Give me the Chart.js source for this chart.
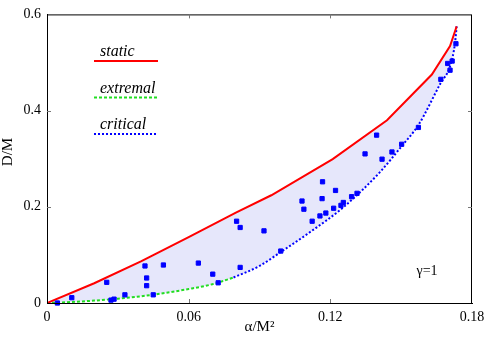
<!DOCTYPE html>
<html>
<head>
<meta charset="utf-8">
<script src="https://cdn.jsdelivr.net/npm/chart.js@4.4.0/dist/chart.umd.min.js"></script>
<style>
body { margin: 0; background: #fff; }
</style>
</head>
<body>
<canvas id="myChart" width="491" height="344"></canvas>
<script>
// static curve (red, solid)
var staticX = [0, 0.02, 0.04, 0.06, 0.08, 0.095, 0.121, 0.144, 0.163, 0.1707, 0.1728, 0.1735];
var staticY = [0, 0.041, 0.087, 0.137, 0.188, 0.224, 0.299, 0.380, 0.475, 0.534, 0.565, 0.575];
// extremal curve (green, dashed)
var extremalX = [0, 0.01, 0.02, 0.03, 0.04, 0.05, 0.06, 0.07, 0.079];
var extremalY = [0, 0.002, 0.005, 0.009, 0.014, 0.021, 0.029, 0.039, 0.053];
// critical curve (blue, dotted)
var criticalX = [0.079, 0.09, 0.099, 0.111, 0.1255, 0.141, 0.1502, 0.1573, 0.1668, 0.1707, 0.1728, 0.1735];
var criticalY = [0.053, 0.077, 0.106, 0.146, 0.199, 0.272, 0.326, 0.370, 0.458, 0.492, 0.540, 0.575];
// scattered samples
var sampleX = [0.0044, 0.0105, 0.0253, 0.0271, 0.0284, 0.033, 0.0415, 0.0422, 0.0422, 0.045,
    0.0493, 0.0641, 0.0702, 0.0725, 0.0803, 0.0818, 0.0818, 0.0919, 0.099, 0.108,
    0.1088, 0.1167, 0.1165, 0.1123, 0.1156, 0.1181, 0.1222, 0.1214, 0.1245, 0.1255,
    0.129, 0.1313, 0.1396, 0.1347, 0.1419, 0.1461, 0.1502, 0.1573, 0.1668, 0.1697,
    0.1707, 0.1716, 0.1732];
var sampleY = [0.0, 0.011, 0.043, 0.006, 0.008, 0.017, 0.077, 0.052, 0.036, 0.017,
    0.079, 0.083, 0.060, 0.042, 0.170, 0.157, 0.074, 0.150, 0.108, 0.212,
    0.195, 0.252, 0.217, 0.170, 0.181, 0.187, 0.234, 0.197, 0.203, 0.209,
    0.221, 0.228, 0.349, 0.310, 0.299, 0.314, 0.330, 0.365, 0.465, 0.498,
    0.484, 0.503, 0.539];
var xTicks = [0, 0.06, 0.12, 0.18];
var xTickLabels = ['0', '0.06', '0.12', '0.18'];
var yTicks = [0, 0.2, 0.4, 0.6];
var yTickLabels = ['0', '0.2', '0.4', '0.6'];
var legendLabels = ['static', 'extremal', 'critical'];
var legendColors = ['#ff0000', '#22dd22', '#0000ff'];

function toPoints(xs, ys) {
    return xs.map(function (x, i) { return { x: x, y: ys[i] }; });
}

var serif = '"Liberation Serif", "DejaVu Serif", serif';

var boxPlugin = {
    id: 'box',
    afterDatasetsDraw: function (chart) {
        var ctx = chart.ctx;
        var a = chart.chartArea;
        var sx = chart.scales.x;
        var sy = chart.scales.y;
        ctx.save();
        ctx.strokeStyle = '#000';
        ctx.lineWidth = 1;
        ctx.strokeRect(a.left + 0.5, a.top + 0.5, a.right - a.left - 1, a.bottom - a.top);
        // inner tick marks on all four sides
        ctx.strokeStyle = '#777';
        ctx.beginPath();
        xTicks.forEach(function (v) {
            var px = Math.round(sx.getPixelForValue(v)) + 0.5;
            if (px <= a.left + 2 || px >= a.right - 2) return;
            ctx.moveTo(px, a.bottom); ctx.lineTo(px, a.bottom - 4);
            ctx.moveTo(px, a.top); ctx.lineTo(px, a.top + 4);
        });
        yTicks.forEach(function (v) {
            var py = Math.round(sy.getPixelForValue(v)) + 0.5;
            if (py <= a.top + 2 || py >= a.bottom - 2) return;
            ctx.moveTo(a.left, py); ctx.lineTo(a.left + 4, py);
            ctx.moveTo(a.right, py); ctx.lineTo(a.right - 4, py);
        });
        ctx.stroke();
        // legend inside the plot
        var dashes = [[], [3, 2], [2, 2]];
        ctx.font = 'italic 16px ' + serif;
        ctx.textBaseline = 'middle';
        ctx.textAlign = 'left';
        for (var i = 0; i < legendLabels.length; i++) {
            var ty = 52 + i * 36.5;
            ctx.fillStyle = '#000';
            ctx.fillText(legendLabels[i], 100, ty);
            ctx.strokeStyle = legendColors[i];
            ctx.lineWidth = 2;
            ctx.setLineDash(dashes[i]);
            ctx.beginPath();
            ctx.moveTo(94, ty + 9);
            ctx.lineTo(158, ty + 9);
            ctx.stroke();
        }
        ctx.setLineDash([]);
        ctx.font = '14px ' + serif;
        ctx.fillStyle = '#000';
        ctx.textAlign = 'center';
        ctx.fillText('\u03b3=1', 427, 271);
        // y axis title
        ctx.translate(8, 152);
        ctx.rotate(-Math.PI / 2);
        ctx.font = '15px ' + serif;
        ctx.fillText('D/M', 0, 0);
        ctx.restore();
    }
};

var ctx = document.getElementById('myChart');
var chart = new Chart(ctx, {
    type: 'scatter',
    data: {
        datasets: [
            {
                label: 'static',
                data: toPoints(staticX, staticY),
                showLine: true,
                borderColor: '#ff0000',
                borderWidth: 2,
                pointRadius: 0,
                fill: false,
                order: 2
            },
            {
                label: 'region',
                data: toPoints(extremalX.concat(criticalX.slice(1)), extremalY.concat(criticalY.slice(1))),
                showLine: true,
                borderWidth: 0,
                borderColor: 'rgba(0,0,0,0)',
                backgroundColor: '#e6e7fb',
                cubicInterpolationMode: 'monotone',
                pointRadius: 0,
                fill: { target: 0 },
                order: 10
            },
            {
                label: 'extremal',
                data: toPoints(extremalX, extremalY),
                showLine: true,
                borderColor: '#22dd22',
                borderWidth: 2,
                borderDash: [3, 2],
                cubicInterpolationMode: 'monotone',
                pointRadius: 0,
                fill: false,
                order: 3
            },
            {
                label: 'critical',
                data: toPoints(criticalX, criticalY),
                showLine: true,
                borderColor: '#0000ff',
                borderWidth: 2,
                borderDash: [2, 2],
                cubicInterpolationMode: 'monotone',
                pointRadius: 0,
                fill: false,
                order: 4
            },
            {
                label: 'samples',
                data: toPoints(sampleX, sampleY),
                showLine: false,
                pointStyle: 'rect',
                pointRadius: 3,
                backgroundColor: '#0000ff',
                borderColor: '#0000ff',
                borderWidth: 1,
                clip: false,
                order: 0
            }
        ]
    },
    options: {
        responsive: false,
        animation: false,
        layout: { padding: { top: 13, right: 19, left: 0, bottom: 0 } },
        plugins: {
            legend: { display: false },
            tooltip: { enabled: false }
        },
        scales: {
            x: {
                type: 'linear',
                min: 0,
                max: 0.18,
                afterBuildTicks: function (s) { s.ticks = xTicks.map(function (v) { return { value: v }; }); },
                afterFit: function (s) { s.height = 41; },
                grid: { display: false, drawTicks: false },
                border: { color: '#000' },
                ticks: {
                    padding: 6,
                    color: '#000',
                    font: { family: serif, size: 14 },
                    maxRotation: 0,
                    callback: function (v, i) { return xTickLabels[i]; }
                },
                title: {
                    display: true,
                    text: '\u03b1/M\u00b2',
                    color: '#000',
                    font: { family: serif, size: 15 },
                    padding: { top: 0, bottom: 8 }
                }
            },
            y: {
                type: 'linear',
                min: 0,
                max: 0.6,
                afterBuildTicks: function (s) { s.ticks = yTicks.map(function (v) { return { value: v }; }); },
                afterFit: function (s) { s.width = 47; },
                grid: { display: false, drawTicks: false },
                border: { color: '#000' },
                ticks: {
                    padding: 6,
                    color: '#000',
                    font: { family: serif, size: 14 },
                    callback: function (v, i) { return yTickLabels[i]; }
                }
            }
        }
    },
    plugins: [boxPlugin]
});
</script>
</body>
</html>
